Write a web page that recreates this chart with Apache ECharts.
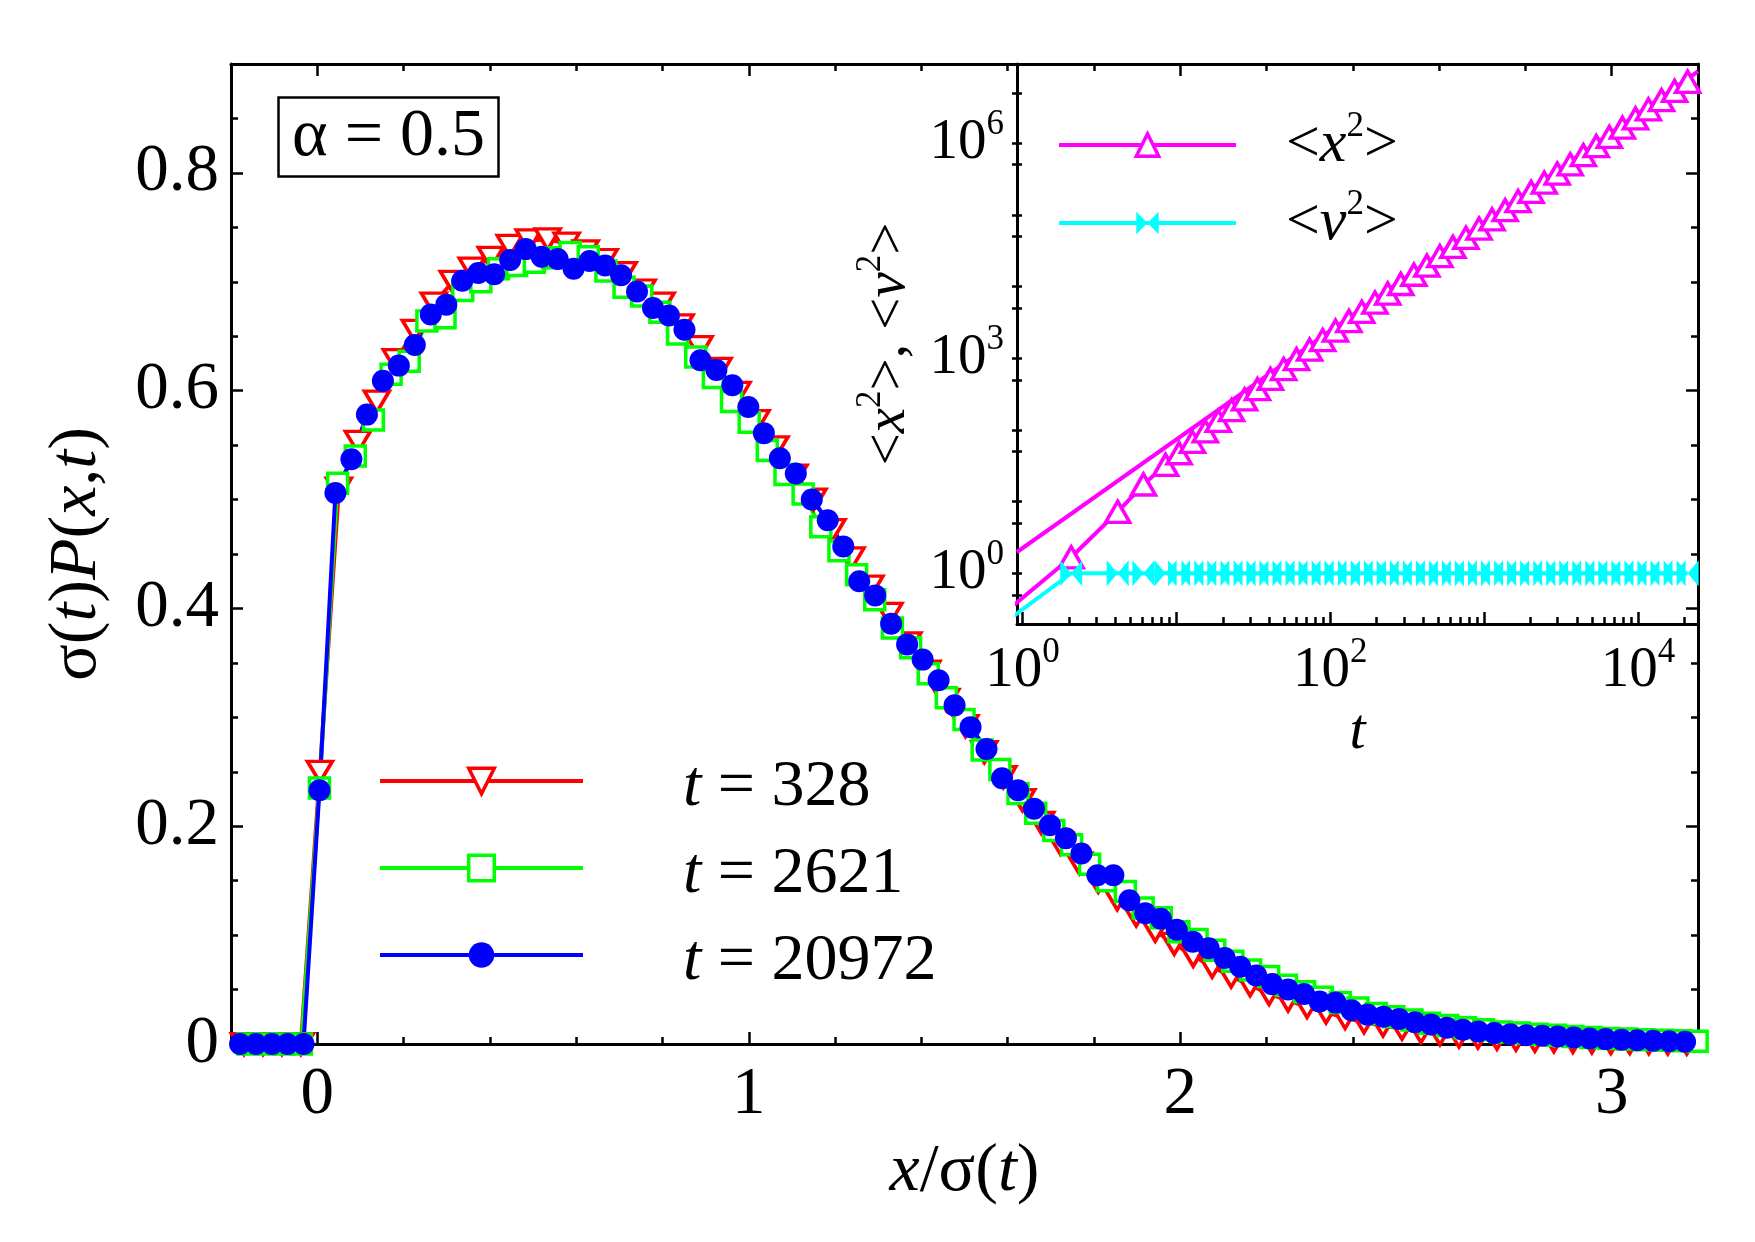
<!DOCTYPE html>
<html>
<head>
<meta charset="utf-8">
<script src="https://cdn.jsdelivr.net/npm/echarts@6.0.0/dist/echarts.min.js"></script>
<style>
  html, body { margin: 0; background: #fff; }
  #chart { width: 1755px; height: 1242px; }
</style>
</head>
<body>
<div id="chart"></div>
<script>
const FONT = 'Liberation Serif, Times New Roman, DejaVu Serif, serif';

// main panel: sigma(t) P(x,t) against x/sigma(t)
const redX = [-0.170,-0.126,-0.082,-0.038,0.006,0.050,0.094,0.138,0.182,0.226,0.270,0.314,0.358,0.402,0.446,0.490,0.534,0.578,0.622,0.666,0.710,0.754,0.798,0.842,0.886,0.930,0.974,1.018,1.062,1.106,1.150,1.194,1.238,1.282,1.326,1.370,1.414,1.458,1.502,1.546,1.590,1.634,1.678,1.722,1.766,1.810,1.854,1.898,1.942,1.986,2.030,2.074,2.118,2.162,2.206,2.250,2.294,2.338,2.382,2.426,2.470,2.514,2.558,2.602,2.646,2.690,2.734,2.778,2.822,2.866,2.910,2.954,2.998,3.042,3.086,3.130,3.174];
const redY = [0,0,0,0,0.250,0.510,0.553,0.590,0.628,0.655,0.680,0.700,0.712,0.722,0.733,0.738,0.739,0.735,0.728,0.720,0.708,0.692,0.680,0.660,0.640,0.620,0.598,0.572,0.548,0.522,0.500,0.472,0.446,0.420,0.395,0.368,0.342,0.316,0.292,0.268,0.245,0.224,0.203,0.184,0.166,0.149,0.133,0.118,0.104,0.092,0.081,0.071,0.062,0.054,0.046,0.040,0.034,0.029,0.024,0.020,0.017,0.014,0.011,0.009,0.007,0.006,0.005,0.004,0.003,0.0025,0.002,0.0015,0.001,0.001,0.0008,0.0005,0.0005];

const greenX = [-0.161,-0.120,-0.078,-0.037,0.005,0.047,0.088,0.130,0.171,0.213,0.254,0.296,0.337,0.379,0.420,0.462,0.503,0.545,0.586,0.628,0.669,0.711,0.752,0.794,0.835,0.877,0.918,0.960,1.001,1.043,1.084,1.126,1.167,1.209,1.250,1.292,1.333,1.375,1.416,1.458,1.499,1.541,1.582,1.624,1.665,1.707,1.748,1.790,1.831,1.873,1.914,1.956,1.997,2.039,2.080,2.122,2.163,2.205,2.246,2.288,2.329,2.371,2.412,2.454,2.495,2.537,2.578,2.620,2.661,2.703,2.744,2.786,2.827,2.869,2.910,2.952,2.993,3.035,3.076,3.118,3.159,3.198];
const greenY = [0,0,0,0,0.235,0.515,0.540,0.573,0.615,0.627,0.664,0.667,0.692,0.700,0.712,0.715,0.718,0.722,0.727,0.723,0.710,0.695,0.687,0.672,0.652,0.631,0.612,0.590,0.571,0.545,0.523,0.505,0.475,0.453,0.431,0.408,0.382,0.364,0.340,0.318,0.298,0.270,0.252,0.230,0.212,0.196,0.183,0.165,0.150,0.140,0.125,0.116,0.103,0.096,0.086,0.076,0.068,0.062,0.054,0.048,0.043,0.038,0.033,0.028,0.025,0.022,0.019,0.017,0.015,0.013,0.011,0.010,0.009,0.008,0.007,0.006,0.005,0.0045,0.004,0.0035,0.003,0.0025];

const blueX = [-0.179,-0.142,-0.105,-0.069,-0.032,0.005,0.042,0.079,0.115,0.152,0.189,0.226,0.263,0.299,0.336,0.373,0.410,0.447,0.483,0.520,0.557,0.594,0.631,0.667,0.704,0.741,0.778,0.815,0.851,0.888,0.925,0.962,0.999,1.035,1.072,1.109,1.146,1.183,1.219,1.256,1.293,1.330,1.367,1.403,1.440,1.477,1.514,1.551,1.587,1.624,1.661,1.698,1.735,1.771,1.808,1.845,1.882,1.919,1.955,1.992,2.029,2.066,2.103,2.139,2.176,2.213,2.250,2.287,2.323,2.360,2.397,2.434,2.471,2.507,2.544,2.581,2.618,2.655,2.691,2.728,2.765,2.802,2.839,2.875,2.912,2.949,2.986,3.023,3.059,3.096,3.133,3.170];
const blueY = [0,0,0,0,0,0.233,0.506,0.537,0.578,0.609,0.623,0.642,0.670,0.679,0.701,0.708,0.707,0.720,0.730,0.723,0.721,0.712,0.719,0.715,0.706,0.691,0.676,0.669,0.656,0.628,0.619,0.605,0.585,0.561,0.538,0.524,0.500,0.481,0.457,0.425,0.412,0.386,0.367,0.353,0.334,0.311,0.291,0.271,0.244,0.233,0.216,0.201,0.189,0.175,0.155,0.155,0.132,0.120,0.115,0.105,0.094,0.088,0.079,0.071,0.063,0.055,0.050,0.046,0.039,0.038,0.031,0.027,0.025,0.023,0.020,0.018,0.015,0.013,0.0115,0.010,0.009,0.008,0.0075,0.007,0.006,0.005,0.0045,0.004,0.0035,0.003,0.0025,0.002];

const legendTimes = ['328', '2621', '20972'];

// inset: <x^2>, <v^2> against t (log-log)
const insetT = [0.8,2.07,4.15,6.1,8.5,10.4,12.7,15.4,18.7,22.8,27.7,33.6,40.8,49.7,60.3,73.3,89.1,108,132,160,195,236,287,349,424,515,626,760,925,1124,1368,1660,2018,2455,2979,3622,4406,5346,6501,7907,9616,11670,14190,17260,20990];
const x2Vals = [0.305,1.67,7.2,17.3,32.4,47.2,68,95.5,134,189,266,369,513,706,968,1315,1790,2420,3300,4430,5960,7980,10840,14590,19500,26550,35650,47750,64300,86300,116100,155200,208900,280500,375800,505800,679200,909900,1222000,1644000,2208000,2958000,3981000,5346000,7178000];
const v2Vals = [0.22,1,1,1,1,1,1,1,1,1,1,1,1,1,1,1,1,1,1,1,1,1,1,1,1,1,1,1,1,1,1,1,1,1,1,1,1,1,1,1,1,1,1,1,1];
const fitT = [0.92, 24500];
const fitVals = [1.98, 1.0e7];

// ticks
const mainXMajor = [0, 1, 2, 3];
const mainXMinor = [0.2,0.4,0.6,0.8,1.2,1.4,1.6,1.8,2.2,2.4,2.6,2.8];
const mainYMajor = [0, 0.2, 0.4, 0.6, 0.8];
const mainYMinor = [0.05,0.1,0.15,0.25,0.3,0.35,0.45,0.5,0.55,0.65,0.7,0.75,0.85];
const insetXMajor = [1, 10, 100, 1000, 10000];
const insetXLabels = [1, 100, 10000];
const insetXMinor = [2,3,4,5,6,7,8,9,20,30,40,50,60,70,80,90,200,300,400,500,600,700,800,900,2000,3000,4000,5000,6000,7000,8000,9000,20000];
const insetYTicks = [0.5,1,5,10,50,100,500,1000,5000,1e4,5e4,1e5,5e5,1e6,5e6];
const insetYLabels = [1, 1000, 1e6];

const zip = (xs, ys) => xs.map((x, i) => [x, ys[i]]);

const frame = { onZero: false, lineStyle: { color: '#000', width: 3 } };
const noLine = { show: false, onZero: false };
const tickStyle = { color: '#000', width: 2.5 };

function ticksOnly(base, values, length, inside) {
  return Object.assign({
    axisLine: noLine,
    axisLabel: { show: false },
    splitLine: { show: false },
    axisTick: { inside: inside !== false, length: length, lineStyle: tickStyle, customValues: values },
  }, base);
}

const legText = { fontFamily: FONT, fontSize: 66, color: '#000', lineHeight: 66, verticalAlign: 'bottom' };
const nameRich = {
  i: { fontFamily: FONT, fontSize: 68, color: '#000', lineHeight: 68, fontStyle: 'italic' },
  n: { fontFamily: FONT, fontSize: 68, color: '#000', lineHeight: 68 },
};
const supRich = {
  b: { fontFamily: FONT, fontSize: 57, color: '#000', lineHeight: 72 },
  i: { fontFamily: FONT, fontSize: 57, color: '#000', lineHeight: 72, fontStyle: 'italic' },
  s: { fontFamily: FONT, fontSize: 35, color: '#000', lineHeight: 32, verticalAlign: 'top' },
};

const mainX = { gridIndex: 0, type: 'value', min: -0.2, max: 3.2 };
const mainY = { gridIndex: 0, type: 'value', min: 0, max: 0.9 };
const insX = { gridIndex: 1, type: 'log', min: 0.92, max: 24500 };
const insY = { gridIndex: 1, type: 'log', min: 0.196, max: 1.27e7 };

// hollow marker: white inside, coloured outline
function hollow(color) {
  return { color: '#fff', borderColor: color, borderWidth: 3.5 };
}

const chart = echarts.init(document.getElementById('chart'));

chart.setOption({
  animation: false,
  backgroundColor: '#fff',
  textStyle: { fontFamily: FONT },
  title: {
    text: 'α = 0.5',
    left: 278,
    top: 97,
    padding: [6, 14],
    borderColor: '#000',
    borderWidth: 2.5,
    textStyle: { fontFamily: FONT, fontSize: 68, fontWeight: 'normal', color: '#000', lineHeight: 68 },
  },
  grid: [
    { left: 231, right: 57, top: 64, bottom: 198 },
    { left: 1017, right: 57, top: 64, bottom: 618 },
  ],
  legend: [
    {
      data: legendTimes,
      orient: 'vertical',
      left: 378,
      top: 741,
      padding: 0,
      itemWidth: 203,
      itemHeight: 32,
      itemGap: 7,
      selectedMode: false,
      lineStyle: { width: 4 },
      itemStyle: { borderWidth: 3.5 },
      formatter: (name) => '{g|}{i|t}{n| = ' + name + '}',
      textStyle: {
        rich: {
          g: { width: 95, height: 80, lineHeight: 80 },
          i: Object.assign({}, legText, { fontStyle: 'italic' }),
          n: legText,
        },
      },
    },
    {
      data: ['x2', 'v2'],
      orient: 'vertical',
      left: 1057,
      top: 109,
      padding: 0,
      itemWidth: 177,
      itemHeight: 28,
      itemGap: 12,
      selectedMode: false,
      lineStyle: { width: 4 },
      itemStyle: { borderWidth: 3.5 },
      formatter: (name) => '{g|}{b|<}{i|' + name[0] + '}{s|2}{b|>}',
      textStyle: {
        rich: {
          g: { width: 45 },
          b: Object.assign({}, supRich.b, { fontSize: 60 }),
          i: Object.assign({}, supRich.i, { fontSize: 60 }),
          s: supRich.s,
        },
      },
    },
  ],
  xAxis: [
    Object.assign({}, mainX, {
      position: 'bottom',
      axisLine: frame,
      splitLine: { show: false },
      axisTick: { inside: true, length: 12, lineStyle: tickStyle, customValues: mainXMajor },
      axisLabel: { customValues: mainXMajor, margin: 18, fontFamily: FONT, fontSize: 67, color: '#000' },
      name: '{i|x}{n|/σ(}{i|t}{n|)}',
      nameLocation: 'middle',
      nameGap: 94,
      nameTextStyle: { rich: nameRich },
    }),
    ticksOnly(Object.assign({}, mainX, { position: 'bottom' }), mainXMinor, 7),
    Object.assign({}, mainX, {
      position: 'top',
      axisLine: frame,
      splitLine: { show: false },
      axisLabel: { show: false },
      axisTick: { inside: true, length: 12, lineStyle: tickStyle, customValues: mainXMajor },
    }),
    ticksOnly(Object.assign({}, mainX, { position: 'top' }), mainXMinor, 7),
    Object.assign({}, insX, {
      position: 'bottom',
      axisLine: frame,
      splitLine: { show: false },
      axisTick: { inside: true, length: 12, lineStyle: tickStyle, customValues: insetXMajor },
      axisLabel: {
        customValues: insetXLabels,
        margin: 11,
        formatter: (v) => '{b|10}{s|' + Math.round(Math.log10(v)) + '}',
        rich: supRich,
      },
      name: 't',
      nameLocation: 'middle',
      nameGap: 80,
      nameTextStyle: { fontFamily: FONT, fontSize: 58, color: '#000', fontStyle: 'italic', lineHeight: 58 },
    }),
    ticksOnly(Object.assign({}, insX, { position: 'bottom' }), insetXMinor, 7),
  ],
  yAxis: [
    Object.assign({}, mainY, {
      position: 'left',
      axisLine: frame,
      splitLine: { show: false },
      axisTick: { inside: true, length: 12, lineStyle: tickStyle, customValues: mainYMajor },
      axisLabel: {
        customValues: mainYMajor,
        margin: 12,
        fontFamily: FONT,
        fontSize: 67,
        color: '#000',
        formatter: (v) => (v === 0 ? '0' : v.toFixed(1)),
      },
      name: '{n|σ(}{i|t}{n|)}{i|P}{n|(}{i|x}{n|,}{i|t}{n|)}',
      nameLocation: 'middle',
      nameGap: 120,
      nameTextStyle: { rich: nameRich },
    }),
    ticksOnly(Object.assign({}, mainY, { position: 'left' }), mainYMinor, 7),
    Object.assign({}, mainY, {
      position: 'right',
      axisLine: frame,
      splitLine: { show: false },
      axisLabel: { show: false },
      axisTick: { inside: true, length: 12, lineStyle: tickStyle, customValues: mainYMajor },
    }),
    ticksOnly(Object.assign({}, mainY, { position: 'right' }), mainYMinor, 7),
    Object.assign({}, insY, {
      position: 'left',
      axisLine: frame,
      splitLine: { show: false },
      axisTick: { inside: false, length: 5, lineStyle: tickStyle, customValues: insetYTicks },
      axisLabel: {
        customValues: insetYLabels,
        margin: 13,
        formatter: (v) => '{b|10}{s|' + Math.round(Math.log10(v)) + '}',
        rich: supRich,
      },
      name: '{b|<}{i|x}{s|2}{b|>, <}{i|v}{s|2}{b|>}',
      nameLocation: 'middle',
      nameGap: 92,
      nameTextStyle: { rich: supRich },
    }),
    ticksOnly(Object.assign({}, insY, { position: 'left' }), insetYTicks, 5),
  ],
  series: [
    {
      name: '328',
      type: 'line',
      xAxisIndex: 0,
      yAxisIndex: 0,
      data: zip(redX, redY),
      symbol: 'triangle',
      symbolRotate: 180,
      symbolSize: [25, 21],
      lineStyle: { color: '#ff0000', width: 4 },
      itemStyle: hollow('#ff0000'),
    },
    {
      name: '2621',
      type: 'line',
      xAxisIndex: 0,
      yAxisIndex: 0,
      data: zip(greenX, greenY),
      symbol: 'rect',
      symbolSize: 20,
      lineStyle: { color: '#00ff00', width: 4 },
      itemStyle: hollow('#00ff00'),
    },
    {
      name: '20972',
      type: 'line',
      xAxisIndex: 0,
      yAxisIndex: 0,
      data: zip(blueX, blueY),
      symbol: 'circle',
      symbolSize: 22,
      lineStyle: { color: '#0000ff', width: 4 },
      itemStyle: { color: '#0000ff' },
    },
    {
      name: 'fit',
      type: 'line',
      xAxisIndex: 4,
      yAxisIndex: 4,
      data: zip(fitT, fitVals),
      showSymbol: false,
      lineStyle: { color: '#ff00ff', width: 4 },
      itemStyle: { color: '#ff00ff' },
    },
    {
      name: 'x2',
      type: 'line',
      xAxisIndex: 4,
      yAxisIndex: 4,
      data: zip(insetT, x2Vals),
      symbol: 'triangle',
      symbolSize: [24, 21],
      lineStyle: { color: '#ff00ff', width: 4 },
      itemStyle: hollow('#ff00ff'),
    },
    {
      name: 'v2',
      type: 'line',
      xAxisIndex: 4,
      yAxisIndex: 4,
      data: zip(insetT, v2Vals),
      symbol: 'path://M0,0L10,11L20,0L20,22L10,11L0,22Z',
      symbolKeepAspect: false,
      symbolSize: [22, 26],
      lineStyle: { color: '#00ffff', width: 4 },
      itemStyle: { color: '#00ffff' },
    },
  ],
});
</script>
</body>
</html>
